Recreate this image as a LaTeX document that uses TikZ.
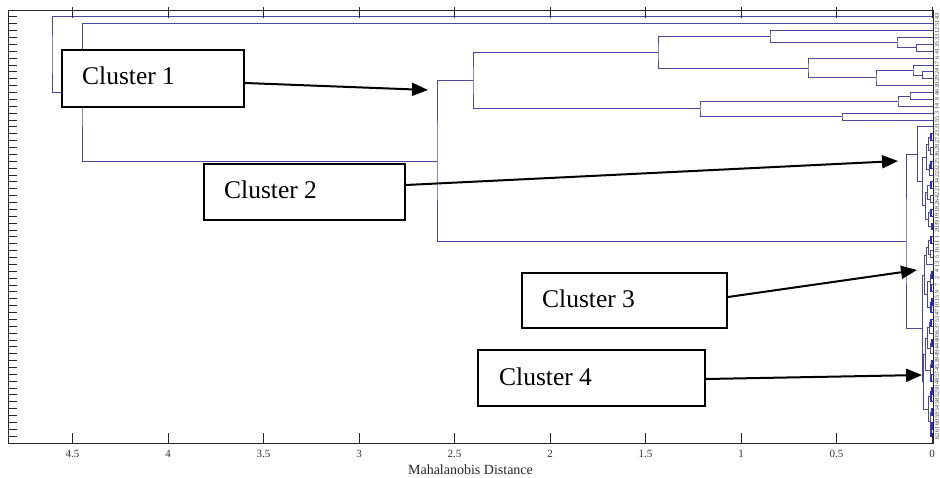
\documentclass[tikz,border=0pt]{standalone}
\usepackage{fontspec}
\setmainfont{Liberation Serif}
\usetikzlibrary{arrows.meta,calc}
\definecolor{dendblue}{RGB}{72,72,160}
\definecolor{leafblue}{RGB}{40,40,220}

% \dmerge[style]{name}{child a}{child b}{x of the link}
% places the joint at the mean height of its two children and draws the link
\newcommand\dmerge[5][dend]{%
  \path let \p1=(#3), \p2=(#4) in (#5pt,{0.5*(\y1+\y2)}) coordinate (#2);
  \draw[#1] (#3) -| (#2) |- (#4);}

\begin{document}
\begin{tikzpicture}[x=1pt,y=-1pt,
  dend/.style={draw=dendblue,line width=0.8pt},
  fine/.style={draw=leafblue,line width=1.1pt},
  axisline/.style={draw=black!85,line width=0.8pt},
  ticklab/.style={font=\fontsize{11}{12}\selectfont,inner sep=0pt,text=black!80},
  leaflab/.style={font=\fontsize{6}{6}\selectfont,inner sep=0pt,rotate=90,text=black!80},
  cbox/.style={draw=black,line width=2pt,fill=white,inner sep=0pt,anchor=north west},
  ctext/.style={font=\fontsize{25.5}{30}\selectfont,inner sep=0pt,anchor=base west},
  pointer/.style={draw=black,line width=2pt,-{Triangle[length=16pt,width=13pt]}}]

\fill[white] (0,0) rectangle (940,478);
\useasboundingbox (0,0) rectangle (940,478);

% leaf positions along the right edge
\foreach \k in {1,...,62} \coordinate (L\k) at (933,{10+6.873*\k});

% upper branch
\dmerge{m1}{L9}{L10}{922}
\dmerge{m2}{L8}{m1}{913}
\dmerge{m3}{m2}{L11}{876}
\dmerge{m4}{L7}{m3}{808}
\dmerge{m5}{L5}{L6}{916}
\dmerge{m6}{L4}{m5}{897}
\dmerge{m7}{L3}{m6}{770}
\dmerge{m8}{m7}{m4}{658}
\dmerge{m9}{L12}{L13}{910}
\dmerge{m10}{m9}{L14}{898}
\dmerge{m11}{L15}{L16}{842}
\dmerge{m12}{m10}{m11}{700}
\dmerge{m13}{m8}{m12}{473}

% lower branch: first group
\dmerge[fine]{a1}{L18}{L19}{931}
\dmerge{a2}{L20}{L21}{930}
\dmerge{a3}{a1}{a2}{928}
\dmerge[fine]{a4}{L22}{L23}{931}
\dmerge{a5}{a4}{L24}{929}
\dmerge{d1}{a3}{a5}{926}
\dmerge[fine]{b1}{L25}{L26}{931}
\dmerge{b2}{L27}{L28}{930}
\dmerge{b3}{b1}{b2}{927}
\dmerge[fine]{b4}{L29}{L30}{931}
\dmerge[fine]{b5}{L31}{L32}{932}
\dmerge{b7}{b4}{b5}{928}
\dmerge{d2}{b3}{b7}{925}
\dmerge{dd}{d1}{d2}{922}
\dmerge{bb}{L17}{dd}{917}

% lower branch: second group
\dmerge[fine]{e1}{L33}{L34}{931}
\dmerge{e2}{L35}{L36}{930}
\dmerge{e3}{e1}{e2}{928}
\dmerge{e4}{e3}{L37}{926}
\dmerge[fine]{e5}{L38}{L39}{932}
\dmerge[fine]{e6}{L40}{L41}{931}
\dmerge{e7}{e5}{e6}{930}
\dmerge[fine]{e8}{L42}{L43}{932}
\dmerge[fine]{e9}{e8}{L44}{931}
\dmerge{e10}{e7}{e9}{927}
\dmerge{ee}{e4}{e10}{924}

% lower branch: third group
\dmerge[fine]{g1}{L45}{L46}{931}
\dmerge{g2}{g1}{L47}{929}
\dmerge[fine]{f1}{L48}{L49}{932}
\dmerge{f2}{f1}{L50}{930}
\dmerge{g3}{g2}{f2}{927}
\dmerge[fine]{f3}{L51}{L52}{932}
\dmerge[fine]{f4}{L53}{L54}{931}
\dmerge{f5}{f3}{f4}{930}
\dmerge{f6}{g3}{f5}{925}
\dmerge[fine]{f7}{L55}{L56}{932}
\dmerge[fine]{f8}{f7}{L57}{931}
\dmerge[fine]{f9}{L58}{L59}{932}
\dmerge[fine]{f10}{L60}{L61}{932}
\dmerge[fine]{f11}{f10}{L62}{931}
\dmerge{f12}{f9}{f11}{930}
\dmerge{f13}{f8}{f12}{928}
\dmerge{ff}{f6}{f13}{923.5}

\dmerge{cc}{ee}{ff}{922}
\dmerge{aa}{bb}{cc}{906}

% top joins
\dmerge{m14}{m13}{aa}{437}
\dmerge{m15}{L2}{m14}{82}
\dmerge{root}{L1}{m15}{52}

% axes frame and ticks
\draw[axisline] (8,10) rectangle (933,443);
\foreach \v in {0,0.5,1,1.5,2,2.5,3,3.5,4,4.5}{
  \draw[axisline] ({932-191*\v},443) -- ++(0,-10);
  \draw[axisline] ({932-191*\v},7) -- ++(0,11);
  \node[ticklab] at ({932-191*\v},453.5) {\v};
}
\foreach \k in {1,...,62} \draw[axisline] (8,{10+6.873*\k}) -- ++(9,0);
\node[font=\fontsize{14}{16}\selectfont,inner sep=0pt,anchor=base,text=black!85] (xlabel) at (470.5,474) {Mahalanobis Distance};

% leaf labels, turned to fit the narrow strip right of the frame
\foreach \n [count=\k] in {43,51,12,33,35,41,6,17,24,29,30,46,8,14,3,55,31,23,27,28,36,25,32,22,34,21,42,26,18,19,39,20,1,11,16,5,13,4,2,7,9,15,10,47,53,37,56,40,44,49,38,45,57,48,50,52,58,54,59,60,61,62}
  \node[leaflab] at (937,{10+6.873*\k}) {\n};

% cluster call-outs
\node[cbox,minimum width=182pt,minimum height=57pt] (box1) at (61,49) {};
\node[ctext] (txt1) at (82,85) {Cluster 1};
\node[cbox,minimum width=201pt,minimum height=56pt] (box2) at (203,163) {};
\node[ctext] (txt2) at (224,199) {Cluster 2};
\node[cbox,minimum width=205pt,minimum height=55pt] (box3) at (521,272) {};
\node[ctext] (txt3) at (542,308) {Cluster 3};
\node[cbox,minimum width=227pt,minimum height=56pt] (box4) at (477,349) {};
\node[ctext] (txt4) at (499,385) {Cluster 4};

\coordinate (tip1) at (428,90);
\coordinate (tip2) at (898,161);
\coordinate (tip3) at (917,270);
\coordinate (tip4) at (922,375);
\draw[pointer] ([yshift=-4.5pt]box1.east) -- (tip1);
\draw[pointer] ([yshift=7pt]box2.east) -- (tip2);
\draw[pointer] ([yshift=3.5pt]box3.east) -- (tip3);
\draw[pointer] ([yshift=-1pt]box4.east) -- (tip4);
\end{tikzpicture}
\end{document}
